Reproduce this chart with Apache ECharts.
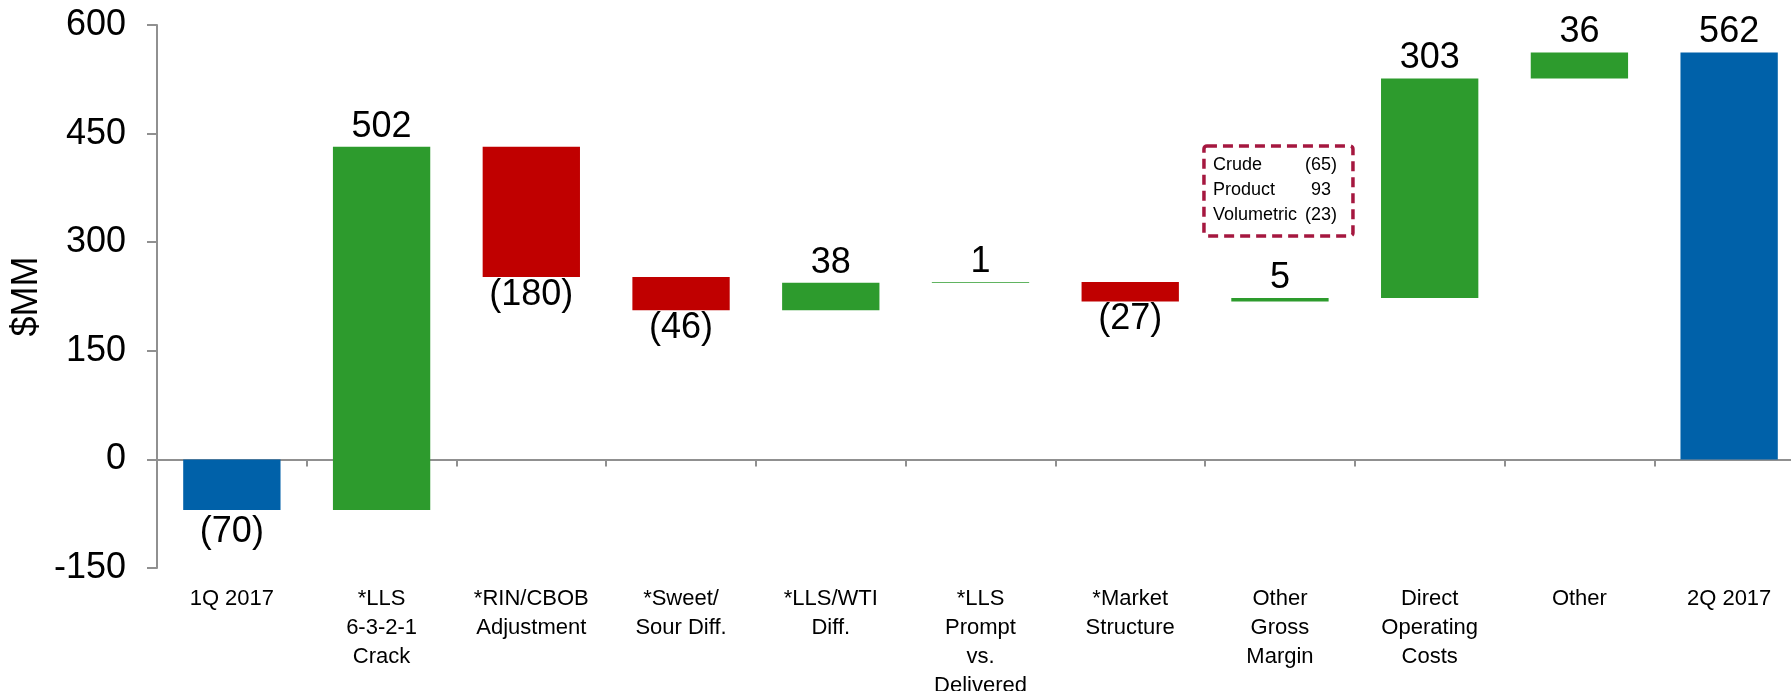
<!DOCTYPE html>
<html>
	<head>
		<meta charset="UTF-8">
		<title>2Q 2017 vs 1Q 2017</title>
		<script type="text/javascript" src="https://cdn.jsdelivr.net/npm/echarts@6/dist/echarts.min.js"></script>
		<style>
			html, body { margin: 0; padding: 0; background: #fff; }
			#main { width: 1791px; height: 691px; }
		</style>
	</head>
	<body>
		<div id="main"></div>
		<script type="text/javascript">
		// 数据
		var categories = ['1Q 2017', '*LLS\n6-3-2-1\nCrack', '*RIN/CBOB\nAdjustment', '*Sweet/\nSour Diff.', '*LLS/WTI\nDiff.',
			'*LLS\nPrompt\nvs.\nDelivered', '*Market\nStructure', 'Other\nGross\nMargin', 'Direct\nOperating\nCosts', 'Other', '2Q 2017'];
		var startValue = -70;
		var steps = [502, -180, -46, 38, 1, -27, 5, 303, 36];
		var endValue = 562;
		var yTicks = [-150, 0, 150, 300, 450, 600];
		// 注释框
		var noteNames = ['Crude', 'Product', 'Volumetric'];
		var noteValues = [-65, 93, -23];

		var BLUE = '#0061A9', GREEN = '#2D9B2D', RED = '#C00000';
		var FONT = "'Liberation Sans', Arial, sans-serif";

		function fmt(v) {
			return v < 0 ? '(' + Math.abs(v) + ')' : String(v);
		}

		// 生成瀑布图的底座和柱子
		var baseData = [], barData = [];
		baseData.push(Math.min(0, startValue));
		barData.push({value: Math.abs(startValue), raw: startValue, itemStyle: {color: BLUE},
			label: {position: startValue < 0 ? 'bottom' : 'top', distance: 4}});
		var level = startValue;
		for (var i = 0; i < steps.length; i++) {
			var next = level + steps[i];
			baseData.push(Math.min(level, next));
			barData.push({value: Math.abs(steps[i]), raw: steps[i], itemStyle: {color: steps[i] >= 0 ? GREEN : RED},
				label: {position: steps[i] >= 0 ? 'top' : 'bottom', distance: steps[i] >= 0 ? 2 : 0}});
			level = next;
		}
		baseData.push(0);
		barData.push({value: endValue, raw: endValue, itemStyle: {color: BLUE}, label: {position: 'top', distance: 2}});

		var myChart = echarts.init(document.getElementById('main'));

		var axisGray = {color: '#909090', width: 2};
		var option = {
			animation: false,
			textStyle: {fontFamily: FONT},
			grid: {left: 157, top: 25, width: 1647, height: 543, containLabel: false, outerBoundsMode: 'none'},
			xAxis: [
				{
					// 底部的类目文字
					type: 'category',
					data: categories,
					position: 'bottom',
					axisLine: {show: false, onZero: false},
					axisTick: {show: false},
					axisLabel: {show: true, interval: 0, margin: 16, fontSize: 22, lineHeight: 29, color: '#000', fontFamily: FONT}
				},
				{
					// 零线和刻度
					type: 'category',
					data: categories,
					position: 'bottom',
					axisLine: {show: true, onZero: true, onZeroAxisIndex: 0, lineStyle: axisGray},
					axisTick: {show: true, length: 7, lineStyle: axisGray},
					axisLabel: {show: false}
				}
			],
			yAxis: {
				type: 'value',
				min: yTicks[0],
				max: yTicks[yTicks.length - 1],
				interval: 150,
				name: '$MM',
				nameLocation: 'middle',
				nameGap: 112,
				nameMoveOverlap: false,
				nameTextStyle: {fontSize: 36, color: '#000', fontFamily: FONT},
				axisLine: {show: true, lineStyle: axisGray},
				axisTick: {show: true, length: 10, lineStyle: axisGray},
				axisLabel: {margin: 31, fontSize: 36, color: '#000', fontFamily: FONT},
				splitLine: {show: false}
			},
			series: [
				{
					name: 'base',
					type: 'bar',
					stack: 'total',
					stackStrategy: 'all',
					barWidth: '65%',
					silent: true,
					itemStyle: {color: 'transparent'},
					data: baseData
				},
				{
					name: 'change',
					type: 'bar',
					stack: 'total',
					stackStrategy: 'all',
					barWidth: '65%',
					label: {
						show: true,
						fontSize: 36,
						lineHeight: 36,
						color: '#000',
						fontFamily: FONT,
						formatter: function (p) { return fmt(p.data.raw); }
					},
					data: barData
				}
			]
		};
		myChart.setOption(option);

		// 注释框放在 Other Gross Margin 上方
		var anchor = myChart.convertToPixel({xAxisIndex: 0, yAxisIndex: 0}, [7, 433]);
		var children = [{
			type: 'rect',
			shape: {x: -76, y: 0, width: 149, height: 90, r: 3},
			style: {fill: '#fff', stroke: '#A5173F', lineWidth: 3.5, lineDash: [10, 6]}
		}];
		var rowY = [19.5, 44.5, 69.5];
		for (var k = 0; k < noteNames.length; k++) {
			children.push({type: 'text', style: {text: noteNames[k], x: -67, y: rowY[k], fill: '#000',
				font: '18px ' + FONT, align: 'left', verticalAlign: 'middle'}});
			children.push({type: 'text', style: {text: fmt(noteValues[k]), x: 41, y: rowY[k], fill: '#000',
				font: '18px ' + FONT, align: 'center', verticalAlign: 'middle'}});
		}
		myChart.setOption({graphic: [{type: 'group', x: anchor[0], y: anchor[1], children: children}]});
		</script>
	</body>
</html>
